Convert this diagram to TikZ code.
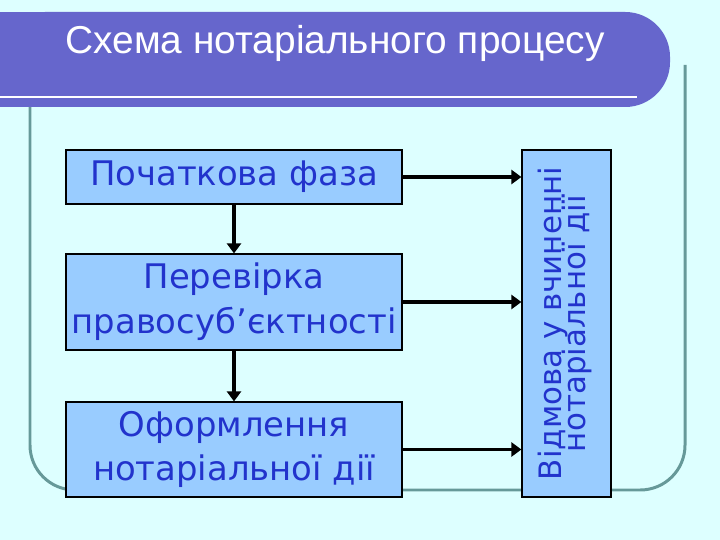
\documentclass[tikz,border=0pt]{standalone}
\usepackage{fontspec}
\setmainfont{DejaVu Sans}
\newfontfamily\titlefont{Liberation Sans}
\usetikzlibrary{arrows.meta}
\definecolor{bg}{HTML}{DDFFFF}
\definecolor{hdr}{HTML}{6666CC}
\definecolor{frm}{HTML}{669999}
\definecolor{boxf}{HTML}{99CCFF}
\definecolor{txt}{HTML}{2233CC}
\tikzset{stage/.style={draw=black,line width=1.2pt,fill=boxf,text=txt,font=\fontsize{34}{45}\selectfont,align=center,inner sep=0pt},
arr/.style={line width=4pt,-{Triangle[length=10pt,width=14pt]}}}
\begin{document}
\begin{tikzpicture}[x=1bp,y=-1bp]
\useasboundingbox (0,0) rectangle (720,540);
\fill[bg] (0,0) rectangle (720,540);
\draw[frm,line width=3pt,rounded corners=45] (30,107) -- (30,490) -- (685,490) -- (685,65);
\fill[hdr,rounded corners=45] (0,12) -- (670,12) -- (670,107) -- (0,107) -- cycle;
\fill[hdr] (0,12) rectangle (60,107);
\draw[white,line width=2pt] (0,97) -- (637,97);
\node[text=white,font=\titlefont\fontsize{39}{44}\selectfont,anchor=west] (title) at (62,43) {Схема нотаріального процесу};
\node[stage,minimum width=336bp,minimum height=54bp] (a) at (234,177) {Початкова фаза};
\node[stage,minimum width=336bp,minimum height=96bp] (b) at (234,302) {Перевірка\\правосуб’єктності};
\node[stage,minimum width=336bp,minimum height=95bp] (c) at (234,449.5) {Оформлення\\нотаріальної дії};
\node[stage,minimum width=89bp,minimum height=347bp] (r) at (566.5,323.5) {\rotatebox{90}{\fontsize{31}{29}\selectfont\begin{tabular}{@{}c@{}}Відмова у вчиненні\\[-8pt]нотаріальної дії\end{tabular}}};
\draw[arr] (a.south) -- (b.north);
\draw[arr] (b.south) -- (c.north);
\draw[arr] (a.east) -- (a.east -| r.west);
\draw[arr] (b.east) -- (b.east -| r.west);
\draw[arr] (c.east) -- (c.east -| r.west);
\end{tikzpicture}
\end{document}
